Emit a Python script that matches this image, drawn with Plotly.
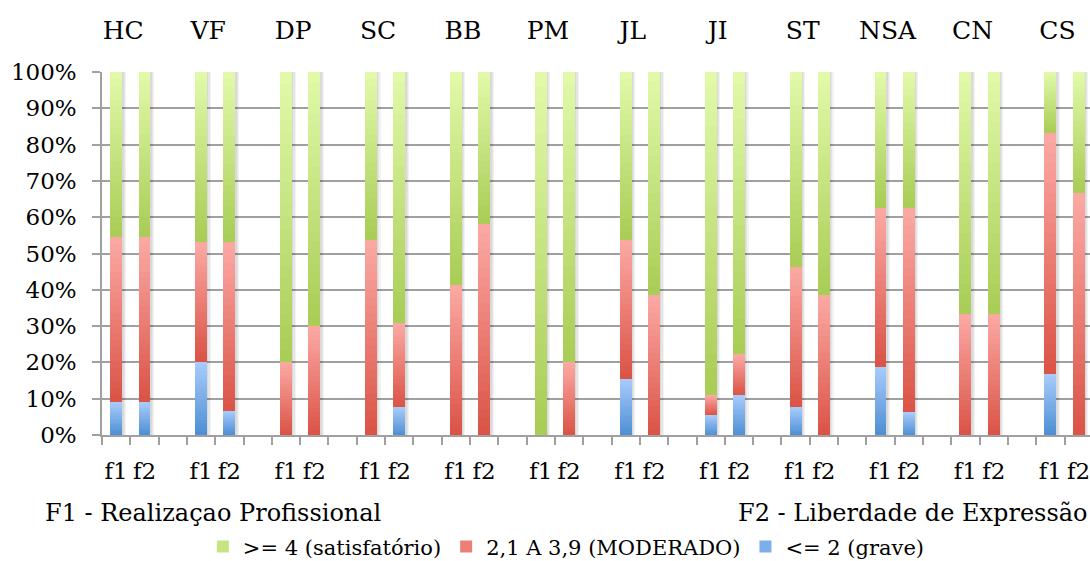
import plotly.graph_objects as go

# Groups and the two factors shown for each group
groups = ["HC", "VF", "DP", "SC", "BB", "PM", "JL", "JI", "ST", "NSA", "CN", "CS"]
factors = ["f1", "f2"]

# Share of answers (%) per level, factor f1 and f2 for each group
grave_f1 = [9.1, 20.0, 0, 0, 0, 0, 15.4, 5.6, 7.7, 18.8, 0, 16.7]
grave_f2 = [9.1, 6.7, 0, 7.7, 0, 0, 0, 11.1, 0, 6.3, 0, 0]
moderado_f1 = [45.4, 33.3, 20.0, 53.8, 41.2, 0, 38.4, 5.5, 38.5, 43.7, 33.3, 66.6]
moderado_f2 = [45.4, 46.6, 30.0, 23.1, 58.1, 20.0, 38.5, 11.1, 38.5, 56.2, 33.3, 66.7]
satisf_f1 = [45.5, 46.7, 80.0, 46.2, 58.8, 100.0, 46.2, 88.9, 53.8, 37.5, 66.7, 16.7]
satisf_f2 = [45.5, 46.7, 70.0, 69.2, 41.9, 80.0, 61.5, 77.8, 61.5, 37.5, 66.7, 33.3]

series = [
    # name, f1 values, f2 values, gradient bottom colour, gradient top colour, legend rank
    ("<= 2 (grave)", grave_f1, grave_f2, (76, 142, 212), (168, 204, 252), 3),
    ("2,1 A 3,9 (MODERADO)", moderado_f1, moderado_f2, (218, 82, 69), (252, 170, 165), 2),
    (">= 4 (satisfatório)", satisf_f1, satisf_f2, (168, 204, 85), (226, 250, 170), 1),
]

FONT = "DejaVu Serif"
GRID = "#A0A0A0"
N_STEPS = 24  # vertical slices used to shade each segment
BAR_W = 0.42

# Slot layout: f1, f2, then an empty slot between groups
x_pos, x_text = [], []
for gi in range(len(groups)):
    for fi, f in enumerate(factors):
        x_pos.append(3 * gi + fi)
        x_text.append(f)


def mix(c0, c1, t):
    return "rgb({},{},{})".format(*[round(a + (b - a) * t) for a, b in zip(c0, c1)])


def interleave(v1, v2):
    out = []
    for a, b in zip(v1, v2):
        out += [a, b]
    return out


fig = go.Figure()

# Soft drop shadow behind each full column
totals = [sum(t) for t in zip(*[interleave(s[1], s[2]) for s in series])]
for shift in (0.05, 0.09, 0.13):
    fig.add_trace(go.Bar(
        x=[x + shift for x in x_pos],
        y=totals,
        width=BAR_W,
        marker=dict(color="rgba(0,0,0,0.05)", line=dict(width=0)),
        showlegend=False,
        hoverinfo="skip",
    ))

for name, v1, v2, c_bot, c_top, rank in series:
    vals = interleave(v1, v2)
    for k in range(N_STEPS):
        t = (k + 0.5) / N_STEPS
        fig.add_trace(go.Bar(
            x=x_pos,
            y=[v / N_STEPS for v in vals],
            width=BAR_W,
            marker=dict(color=mix(c_bot, c_top, t), line=dict(width=0)),
            name=name,
            legendgroup=name,
            legendrank=rank,
            showlegend=(k == N_STEPS // 2),
            hoverinfo="skip",
        ))

x_range = [-0.5, 3 * len(groups) - 1.6]

fig.update_layout(
    width=1090,
    height=561,
    margin=dict(l=102, r=0, t=72, b=126, autoexpand=False),
    barmode="stack",
    bargap=0,
    plot_bgcolor="white",
    paper_bgcolor="white",
    font=dict(family=FONT, color="#000000"),
    showlegend=True,
    legend=dict(
        orientation="h",
        x=0.47,
        xanchor="center",
        y=-0.308,
        yanchor="middle",
        font=dict(family=FONT, size=21),
        itemclick=False,
        tracegroupgap=0,
    ),
    xaxis=dict(
        range=x_range,
        automargin=False,
        tickmode="array",
        tickvals=x_pos,
        ticktext=x_text,
        ticks="outside",
        ticklen=15,
        tickcolor="rgba(0,0,0,0)",
        tickfont=dict(family=FONT, size=23),
        ticklabeloverflow="allow",
        showgrid=False,
        zeroline=False,
        showline=True,
        linecolor=GRID,
        linewidth=1.5,
        minor=dict(
            tickmode="array",
            tickvals=[i - 0.5 for i in range(3 * len(groups))],
            ticks="outside",
            ticklen=8,
            tickwidth=1.5,
            tickcolor=GRID,
            showgrid=False,
        ),
        fixedrange=True,
    ),
    xaxis2=dict(
        overlaying="x",
        side="top",
        range=x_range,
        automargin=False,
        tickmode="array",
        tickvals=[3 * gi + 0.25 for gi in range(len(groups))],
        ticktext=groups,
        ticks="outside",
        ticklen=22,
        tickcolor="rgba(0,0,0,0)",
        tickfont=dict(family=FONT, size=25),
        ticklabeloverflow="allow",
        showgrid=False,
        zeroline=False,
        showline=False,
        fixedrange=True,
    ),
    yaxis=dict(
        range=[0, 100],
        automargin=False,
        tickmode="linear",
        tick0=0,
        dtick=10,
        ticksuffix="%",
        ticks="outside",
        ticklen=8,
        tickwidth=1.5,
        tickcolor=GRID,
        ticklabelstandoff=11,
        tickfont=dict(family=FONT, size=23),
        showgrid=True,
        gridcolor=GRID,
        gridwidth=1.5,
        zeroline=False,
        showline=True,
        linecolor=GRID,
        linewidth=1.5,
        fixedrange=True,
    ),
    annotations=[
        dict(text="F1 - Realizaçao Profissional", xref="paper", yref="paper",
             x=-0.06, y=-0.215, xanchor="left", yanchor="middle",
             showarrow=False, font=dict(family=FONT, size=24)),
        dict(text="F2 - Liberdade de Expressão", xref="paper", yref="paper",
             x=1.0, y=-0.215, xanchor="right", yanchor="middle",
             showarrow=False, font=dict(family=FONT, size=24)),
    ],
)

# Invisible trace so the top axis carrying the group names is drawn
fig.add_trace(go.Scatter(x=[x_range[0]], y=[0], xaxis="x2", mode="markers",
                         marker=dict(opacity=0), showlegend=False, hoverinfo="skip"))

fig.write_html("out.html", config={"displayModeBar": False})
